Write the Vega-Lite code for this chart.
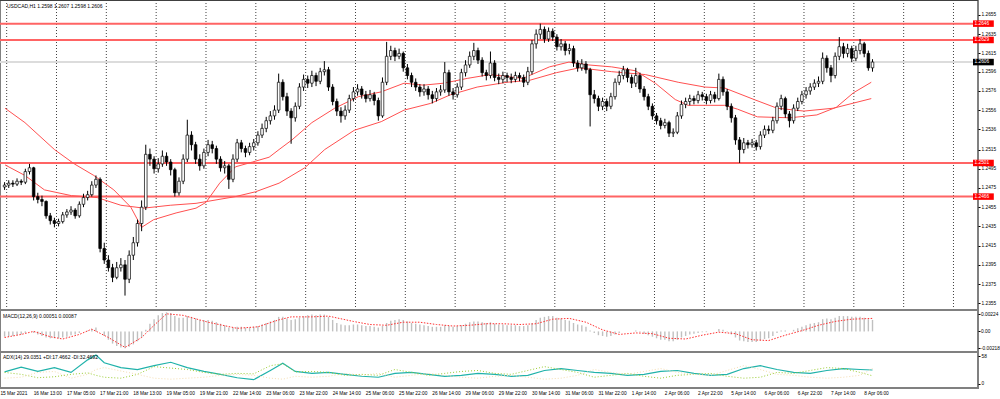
{
"$schema":"https://vega.github.io/schema/vega-lite/v6.json",
"autosize":{"type":"none"},"width":978,"height":388,"padding":{"left":0,"top":0,"right":22,"bottom":11},"background":"white",
"config":{"view":{"stroke":"#808080","strokeWidth":2},"font":"Liberation Sans"},
"datasets":{
"k":[
{"i":0,"o":1.2476,"h":1.2481,"l":1.2473,"c":1.2478,"m":-0.0007},
{"i":1,"o":1.2478,"h":1.2483,"l":1.2475,"c":1.2480,"m":-0.0007},
{"i":2,"o":1.2480,"h":1.2483,"l":1.2476,"c":1.2479,"m":-0.0006},
{"i":3,"o":1.2479,"h":1.2485,"l":1.2477,"c":1.2482,"m":-0.0005},
{"i":4,"o":1.2482,"h":1.2484,"l":1.2478,"c":1.2481,"m":-0.0004},
{"i":5,"o":1.2481,"h":1.2495,"l":1.2479,"c":1.2492,"m":-0.0002},
{"i":6,"o":1.2492,"h":1.2500,"l":1.2489,"c":1.2496,"m":0.0000},
{"i":7,"o":1.2496,"h":1.2497,"l":1.2462,"c":1.2466,"m":-0.0002},
{"i":8,"o":1.2466,"h":1.2470,"l":1.2459,"c":1.2463,"m":-0.0004},
{"i":9,"o":1.2463,"h":1.2467,"l":1.2456,"c":1.2461,"m":-0.0006},
{"i":10,"o":1.2461,"h":1.2462,"l":1.2443,"c":1.2446,"m":-0.0008},
{"i":11,"o":1.2446,"h":1.2449,"l":1.2437,"c":1.2441,"m":-0.0009},
{"i":12,"o":1.2441,"h":1.2444,"l":1.2434,"c":1.2438,"m":-0.0009},
{"i":13,"o":1.2438,"h":1.2443,"l":1.2435,"c":1.2440,"m":-0.0009},
{"i":14,"o":1.2440,"h":1.2450,"l":1.2438,"c":1.2447,"m":-0.0008},
{"i":15,"o":1.2447,"h":1.2453,"l":1.2444,"c":1.2450,"m":-0.0007},
{"i":16,"o":1.2450,"h":1.2456,"l":1.2447,"c":1.2452,"m":-0.0005},
{"i":17,"o":1.2452,"h":1.2454,"l":1.2443,"c":1.2446,"m":-0.0004},
{"i":18,"o":1.2446,"h":1.2461,"l":1.2444,"c":1.2458,"m":-0.0002},
{"i":19,"o":1.2458,"h":1.2469,"l":1.2455,"c":1.2465,"m":0.0000},
{"i":20,"o":1.2465,"h":1.2472,"l":1.2462,"c":1.2468,"m":0.0001},
{"i":21,"o":1.2468,"h":1.2482,"l":1.2466,"c":1.2478,"m":0.0003},
{"i":22,"o":1.2478,"h":1.2488,"l":1.2475,"c":1.2484,"m":0.0005},
{"i":23,"o":1.2484,"h":1.2486,"l":1.2408,"c":1.2412,"m":0.0000},
{"i":24,"o":1.2412,"h":1.2418,"l":1.2396,"c":1.2400,"m":-0.0006},
{"i":25,"o":1.2400,"h":1.2405,"l":1.2388,"c":1.2392,"m":-0.0011},
{"i":26,"o":1.2392,"h":1.2396,"l":1.2377,"c":1.2382,"m":-0.0016},
{"i":27,"o":1.2382,"h":1.2398,"l":1.2380,"c":1.2392,"m":-0.0019},
{"i":28,"o":1.2392,"h":1.2402,"l":1.2388,"c":1.2395,"m":-0.0021},
{"i":29,"o":1.2395,"h":1.2400,"l":1.2363,"c":1.2380,"m":-0.0022},
{"i":30,"o":1.2380,"h":1.2410,"l":1.2376,"c":1.2405,"m":-0.0020},
{"i":31,"o":1.2405,"h":1.2424,"l":1.2400,"c":1.2418,"m":-0.0017},
{"i":32,"o":1.2418,"h":1.2442,"l":1.2414,"c":1.2438,"m":-0.0013},
{"i":33,"o":1.2438,"h":1.2462,"l":1.2430,"c":1.2455,"m":-0.0008},
{"i":34,"o":1.2455,"h":1.2520,"l":1.2452,"c":1.2510,"m":0.0002},
{"i":35,"o":1.2510,"h":1.2516,"l":1.2498,"c":1.2505,"m":0.0010},
{"i":36,"o":1.2505,"h":1.2508,"l":1.2490,"c":1.2495,"m":0.0016},
{"i":37,"o":1.2495,"h":1.2506,"l":1.2491,"c":1.2500,"m":0.0021},
{"i":38,"o":1.2500,"h":1.2514,"l":1.2497,"c":1.2508,"m":0.0024},
{"i":39,"o":1.2508,"h":1.2512,"l":1.2498,"c":1.2502,"m":0.0025},
{"i":40,"o":1.2502,"h":1.2505,"l":1.2488,"c":1.2494,"m":0.0024},
{"i":41,"o":1.2494,"h":1.2496,"l":1.2466,"c":1.2470,"m":0.0020},
{"i":42,"o":1.2470,"h":1.2486,"l":1.2467,"c":1.2482,"m":0.0018},
{"i":43,"o":1.2482,"h":1.2510,"l":1.2479,"c":1.2505,"m":0.0018},
{"i":44,"o":1.2505,"h":1.2546,"l":1.2502,"c":1.2530,"m":0.0020},
{"i":45,"o":1.2530,"h":1.2534,"l":1.2514,"c":1.2520,"m":0.0019},
{"i":46,"o":1.2520,"h":1.2523,"l":1.2500,"c":1.2505,"m":0.0017},
{"i":47,"o":1.2505,"h":1.2510,"l":1.2493,"c":1.2498,"m":0.0015},
{"i":48,"o":1.2498,"h":1.2516,"l":1.2495,"c":1.2512,"m":0.0015},
{"i":49,"o":1.2512,"h":1.2525,"l":1.2508,"c":1.2520,"m":0.0015},
{"i":50,"o":1.2520,"h":1.2524,"l":1.2511,"c":1.2516,"m":0.0014},
{"i":51,"o":1.2516,"h":1.2519,"l":1.2500,"c":1.2505,"m":0.0012},
{"i":52,"o":1.2505,"h":1.2508,"l":1.2492,"c":1.2496,"m":0.0010},
{"i":53,"o":1.2496,"h":1.2503,"l":1.2490,"c":1.2498,"m":0.0008},
{"i":54,"o":1.2498,"h":1.2500,"l":1.2474,"c":1.2484,"m":0.0005},
{"i":55,"o":1.2484,"h":1.2510,"l":1.2481,"c":1.2505,"m":0.0005},
{"i":56,"o":1.2505,"h":1.2526,"l":1.2502,"c":1.2522,"m":0.0006},
{"i":57,"o":1.2522,"h":1.2525,"l":1.2512,"c":1.2516,"m":0.0006},
{"i":58,"o":1.2516,"h":1.2519,"l":1.2507,"c":1.2512,"m":0.0005},
{"i":59,"o":1.2512,"h":1.2522,"l":1.2509,"c":1.2518,"m":0.0005},
{"i":60,"o":1.2518,"h":1.2526,"l":1.2514,"c":1.2522,"m":0.0006},
{"i":61,"o":1.2522,"h":1.2534,"l":1.2519,"c":1.2530,"m":0.0007},
{"i":62,"o":1.2530,"h":1.2542,"l":1.2527,"c":1.2537,"m":0.0009},
{"i":63,"o":1.2537,"h":1.2549,"l":1.2533,"c":1.2545,"m":0.0011},
{"i":64,"o":1.2545,"h":1.2555,"l":1.2541,"c":1.2550,"m":0.0013},
{"i":65,"o":1.2550,"h":1.2561,"l":1.2546,"c":1.2556,"m":0.0015},
{"i":66,"o":1.2556,"h":1.2594,"l":1.2553,"c":1.2585,"m":0.0019},
{"i":67,"o":1.2585,"h":1.2588,"l":1.2566,"c":1.2570,"m":0.0019},
{"i":68,"o":1.2570,"h":1.2574,"l":1.2550,"c":1.2555,"m":0.0017},
{"i":69,"o":1.2555,"h":1.2558,"l":1.2521,"c":1.2548,"m":0.0015},
{"i":70,"o":1.2548,"h":1.2564,"l":1.2544,"c":1.2560,"m":0.0016},
{"i":71,"o":1.2560,"h":1.2584,"l":1.2557,"c":1.2580,"m":0.0018},
{"i":72,"o":1.2580,"h":1.2593,"l":1.2576,"c":1.2588,"m":0.0020},
{"i":73,"o":1.2588,"h":1.2592,"l":1.2579,"c":1.2584,"m":0.0021},
{"i":74,"o":1.2584,"h":1.2597,"l":1.2580,"c":1.2592,"m":0.0022},
{"i":75,"o":1.2592,"h":1.2595,"l":1.2581,"c":1.2586,"m":0.0021},
{"i":76,"o":1.2586,"h":1.2600,"l":1.2583,"c":1.2596,"m":0.0022},
{"i":77,"o":1.2596,"h":1.2607,"l":1.2592,"c":1.2598,"m":0.0022},
{"i":78,"o":1.2598,"h":1.2601,"l":1.2576,"c":1.2580,"m":0.0019},
{"i":79,"o":1.2580,"h":1.2583,"l":1.2561,"c":1.2565,"m":0.0015},
{"i":80,"o":1.2565,"h":1.2568,"l":1.2550,"c":1.2555,"m":0.0011},
{"i":81,"o":1.2555,"h":1.2559,"l":1.2543,"c":1.2550,"m":0.0009},
{"i":82,"o":1.2550,"h":1.2561,"l":1.2546,"c":1.2556,"m":0.0008},
{"i":83,"o":1.2556,"h":1.2572,"l":1.2553,"c":1.2568,"m":0.0008},
{"i":84,"o":1.2568,"h":1.2580,"l":1.2565,"c":1.2575,"m":0.0009},
{"i":85,"o":1.2575,"h":1.2583,"l":1.2571,"c":1.2578,"m":0.0009},
{"i":86,"o":1.2578,"h":1.2581,"l":1.2568,"c":1.2572,"m":0.0008},
{"i":87,"o":1.2572,"h":1.2576,"l":1.2564,"c":1.2568,"m":0.0007},
{"i":88,"o":1.2568,"h":1.2577,"l":1.2565,"c":1.2572,"m":0.0007},
{"i":89,"o":1.2572,"h":1.2575,"l":1.2561,"c":1.2566,"m":0.0006},
{"i":90,"o":1.2566,"h":1.2569,"l":1.2545,"c":1.2550,"m":0.0005},
{"i":91,"o":1.2550,"h":1.2590,"l":1.2548,"c":1.2585,"m":0.0007},
{"i":92,"o":1.2585,"h":1.2627,"l":1.2582,"c":1.2612,"m":0.0011},
{"i":93,"o":1.2612,"h":1.2623,"l":1.2608,"c":1.2618,"m":0.0014},
{"i":94,"o":1.2618,"h":1.2621,"l":1.2607,"c":1.2612,"m":0.0015},
{"i":95,"o":1.2612,"h":1.2620,"l":1.2609,"c":1.2615,"m":0.0016},
{"i":96,"o":1.2615,"h":1.2617,"l":1.2596,"c":1.2600,"m":0.0015},
{"i":97,"o":1.2600,"h":1.2604,"l":1.2588,"c":1.2592,"m":0.0013},
{"i":98,"o":1.2592,"h":1.2595,"l":1.2580,"c":1.2585,"m":0.0011},
{"i":99,"o":1.2585,"h":1.2589,"l":1.2576,"c":1.2580,"m":0.0010},
{"i":100,"o":1.2580,"h":1.2583,"l":1.2570,"c":1.2575,"m":0.0009},
{"i":101,"o":1.2575,"h":1.2583,"l":1.2571,"c":1.2578,"m":0.0008},
{"i":102,"o":1.2578,"h":1.2581,"l":1.2567,"c":1.2572,"m":0.0007},
{"i":103,"o":1.2572,"h":1.2576,"l":1.2563,"c":1.2568,"m":0.0006},
{"i":104,"o":1.2568,"h":1.2579,"l":1.2565,"c":1.2575,"m":0.0006},
{"i":105,"o":1.2575,"h":1.2582,"l":1.2571,"c":1.2577,"m":0.0006},
{"i":106,"o":1.2577,"h":1.2606,"l":1.2574,"c":1.2595,"m":0.0008},
{"i":107,"o":1.2595,"h":1.2598,"l":1.2571,"c":1.2575,"m":0.0007},
{"i":108,"o":1.2575,"h":1.2579,"l":1.2567,"c":1.2572,"m":0.0006},
{"i":109,"o":1.2572,"h":1.2584,"l":1.2569,"c":1.2580,"m":0.0007},
{"i":110,"o":1.2580,"h":1.2599,"l":1.2577,"c":1.2595,"m":0.0008},
{"i":111,"o":1.2595,"h":1.2608,"l":1.2591,"c":1.2603,"m":0.0010},
{"i":112,"o":1.2603,"h":1.2617,"l":1.2600,"c":1.2612,"m":0.0012},
{"i":113,"o":1.2612,"h":1.2626,"l":1.2608,"c":1.2618,"m":0.0013},
{"i":114,"o":1.2618,"h":1.2621,"l":1.2604,"c":1.2608,"m":0.0013},
{"i":115,"o":1.2608,"h":1.2611,"l":1.2591,"c":1.2595,"m":0.0012},
{"i":116,"o":1.2595,"h":1.2598,"l":1.2587,"c":1.2592,"m":0.0011},
{"i":117,"o":1.2592,"h":1.2617,"l":1.2589,"c":1.2605,"m":0.0012},
{"i":118,"o":1.2605,"h":1.2608,"l":1.2586,"c":1.2590,"m":0.0010},
{"i":119,"o":1.2590,"h":1.2594,"l":1.2583,"c":1.2588,"m":0.0009},
{"i":120,"o":1.2588,"h":1.2596,"l":1.2584,"c":1.2592,"m":0.0009},
{"i":121,"o":1.2592,"h":1.2595,"l":1.2585,"c":1.2590,"m":0.0008},
{"i":122,"o":1.2590,"h":1.2594,"l":1.2584,"c":1.2588,"m":0.0008},
{"i":123,"o":1.2588,"h":1.2596,"l":1.2585,"c":1.2592,"m":0.0008},
{"i":124,"o":1.2592,"h":1.2595,"l":1.2586,"c":1.2590,"m":0.0007},
{"i":125,"o":1.2590,"h":1.2593,"l":1.2580,"c":1.2585,"m":0.0007},
{"i":126,"o":1.2585,"h":1.2601,"l":1.2582,"c":1.2596,"m":0.0008},
{"i":127,"o":1.2596,"h":1.2629,"l":1.2593,"c":1.2625,"m":0.0011},
{"i":128,"o":1.2625,"h":1.2640,"l":1.2620,"c":1.2635,"m":0.0015},
{"i":129,"o":1.2635,"h":1.2646,"l":1.2630,"c":1.2640,"m":0.0018},
{"i":130,"o":1.2640,"h":1.2643,"l":1.2626,"c":1.2630,"m":0.0019},
{"i":131,"o":1.2630,"h":1.2642,"l":1.2627,"c":1.2638,"m":0.0020},
{"i":132,"o":1.2638,"h":1.2641,"l":1.2628,"c":1.2632,"m":0.0020},
{"i":133,"o":1.2632,"h":1.2635,"l":1.2618,"c":1.2622,"m":0.0018},
{"i":134,"o":1.2622,"h":1.2630,"l":1.2618,"c":1.2625,"m":0.0017},
{"i":135,"o":1.2625,"h":1.2628,"l":1.2613,"c":1.2618,"m":0.0015},
{"i":136,"o":1.2618,"h":1.2625,"l":1.2614,"c":1.2620,"m":0.0014},
{"i":137,"o":1.2620,"h":1.2623,"l":1.2601,"c":1.2605,"m":0.0011},
{"i":138,"o":1.2605,"h":1.2608,"l":1.2596,"c":1.2600,"m":0.0009},
{"i":139,"o":1.2600,"h":1.2609,"l":1.2597,"c":1.2604,"m":0.0008},
{"i":140,"o":1.2604,"h":1.2607,"l":1.2594,"c":1.2598,"m":0.0006},
{"i":141,"o":1.2598,"h":1.2600,"l":1.2539,"c":1.2572,"m":0.0001},
{"i":142,"o":1.2572,"h":1.2577,"l":1.2563,"c":1.2568,"m":-0.0002},
{"i":143,"o":1.2568,"h":1.2571,"l":1.2555,"c":1.2560,"m":-0.0005},
{"i":144,"o":1.2560,"h":1.2569,"l":1.2556,"c":1.2565,"m":-0.0006},
{"i":145,"o":1.2565,"h":1.2568,"l":1.2555,"c":1.2560,"m":-0.0007},
{"i":146,"o":1.2560,"h":1.2574,"l":1.2557,"c":1.2570,"m":-0.0006},
{"i":147,"o":1.2570,"h":1.2589,"l":1.2567,"c":1.2585,"m":-0.0004},
{"i":148,"o":1.2585,"h":1.2597,"l":1.2582,"c":1.2592,"m":-0.0002},
{"i":149,"o":1.2592,"h":1.2602,"l":1.2588,"c":1.2598,"m":0.0000},
{"i":150,"o":1.2598,"h":1.2600,"l":1.2585,"c":1.2590,"m":0.0000},
{"i":151,"o":1.2590,"h":1.2593,"l":1.2579,"c":1.2584,"m":0.0000},
{"i":152,"o":1.2584,"h":1.2600,"l":1.2580,"c":1.2592,"m":0.0001},
{"i":153,"o":1.2592,"h":1.2595,"l":1.2574,"c":1.2578,"m":-0.0001},
{"i":154,"o":1.2578,"h":1.2581,"l":1.2566,"c":1.2570,"m":-0.0003},
{"i":155,"o":1.2570,"h":1.2573,"l":1.2556,"c":1.2560,"m":-0.0005},
{"i":156,"o":1.2560,"h":1.2563,"l":1.2546,"c":1.2550,"m":-0.0007},
{"i":157,"o":1.2550,"h":1.2553,"l":1.2541,"c":1.2545,"m":-0.0009},
{"i":158,"o":1.2545,"h":1.2548,"l":1.2536,"c":1.2540,"m":-0.0011},
{"i":159,"o":1.2540,"h":1.2547,"l":1.2537,"c":1.2543,"m":-0.0011},
{"i":160,"o":1.2543,"h":1.2545,"l":1.2528,"c":1.2532,"m":-0.0013},
{"i":161,"o":1.2532,"h":1.2537,"l":1.2528,"c":1.2533,"m":-0.0013},
{"i":162,"o":1.2533,"h":1.2554,"l":1.2531,"c":1.2550,"m":-0.0011},
{"i":163,"o":1.2550,"h":1.2566,"l":1.2547,"c":1.2562,"m":-0.0008},
{"i":164,"o":1.2562,"h":1.2569,"l":1.2558,"c":1.2565,"m":-0.0006},
{"i":165,"o":1.2565,"h":1.2572,"l":1.2561,"c":1.2568,"m":-0.0004},
{"i":166,"o":1.2568,"h":1.2571,"l":1.2562,"c":1.2566,"m":-0.0003},
{"i":167,"o":1.2566,"h":1.2576,"l":1.2563,"c":1.2572,"m":-0.0002},
{"i":168,"o":1.2572,"h":1.2575,"l":1.2566,"c":1.2570,"m":-0.0001},
{"i":169,"o":1.2570,"h":1.2573,"l":1.2562,"c":1.2566,"m":-0.0001},
{"i":170,"o":1.2566,"h":1.2576,"l":1.2563,"c":1.2572,"m":0.0000},
{"i":171,"o":1.2572,"h":1.2575,"l":1.2564,"c":1.2568,"m":0.0000},
{"i":172,"o":1.2568,"h":1.2594,"l":1.2566,"c":1.2588,"m":0.0003},
{"i":173,"o":1.2588,"h":1.2591,"l":1.2571,"c":1.2575,"m":0.0002},
{"i":174,"o":1.2575,"h":1.2578,"l":1.2556,"c":1.2560,"m":-0.0001},
{"i":175,"o":1.2560,"h":1.2563,"l":1.2543,"c":1.2548,"m":-0.0004},
{"i":176,"o":1.2548,"h":1.2551,"l":1.2520,"c":1.2525,"m":-0.0008},
{"i":177,"o":1.2525,"h":1.2528,"l":1.2501,"c":1.2515,"m":-0.0012},
{"i":178,"o":1.2515,"h":1.2527,"l":1.2511,"c":1.2522,"m":-0.0013},
{"i":179,"o":1.2522,"h":1.2525,"l":1.2516,"c":1.2520,"m":-0.0014},
{"i":180,"o":1.2520,"h":1.2526,"l":1.2517,"c":1.2522,"m":-0.0014},
{"i":181,"o":1.2522,"h":1.2525,"l":1.2514,"c":1.2518,"m":-0.0014},
{"i":182,"o":1.2518,"h":1.2534,"l":1.2515,"c":1.2530,"m":-0.0012},
{"i":183,"o":1.2530,"h":1.2540,"l":1.2527,"c":1.2536,"m":-0.0010},
{"i":184,"o":1.2536,"h":1.2540,"l":1.2531,"c":1.2535,"m":-0.0009},
{"i":185,"o":1.2535,"h":1.2549,"l":1.2532,"c":1.2545,"m":-0.0006},
{"i":186,"o":1.2545,"h":1.2564,"l":1.2542,"c":1.2560,"m":-0.0002},
{"i":187,"o":1.2560,"h":1.2572,"l":1.2556,"c":1.2568,"m":0.0001},
{"i":188,"o":1.2568,"h":1.2570,"l":1.2548,"c":1.2552,"m":0.0001},
{"i":189,"o":1.2552,"h":1.2555,"l":1.2538,"c":1.2545,"m":0.0000},
{"i":190,"o":1.2545,"h":1.2562,"l":1.2542,"c":1.2558,"m":0.0002},
{"i":191,"o":1.2558,"h":1.2569,"l":1.2555,"c":1.2565,"m":0.0004},
{"i":192,"o":1.2565,"h":1.2576,"l":1.2562,"c":1.2572,"m":0.0006},
{"i":193,"o":1.2572,"h":1.2580,"l":1.2568,"c":1.2576,"m":0.0008},
{"i":194,"o":1.2576,"h":1.2584,"l":1.2572,"c":1.2580,"m":0.0010},
{"i":195,"o":1.2580,"h":1.2588,"l":1.2577,"c":1.2584,"m":0.0011},
{"i":196,"o":1.2584,"h":1.2591,"l":1.2580,"c":1.2586,"m":0.0012},
{"i":197,"o":1.2586,"h":1.2616,"l":1.2583,"c":1.2610,"m":0.0016},
{"i":198,"o":1.2610,"h":1.2613,"l":1.2595,"c":1.2600,"m":0.0017},
{"i":199,"o":1.2600,"h":1.2603,"l":1.2585,"c":1.2592,"m":0.0016},
{"i":200,"o":1.2592,"h":1.2616,"l":1.2589,"c":1.2612,"m":0.0018},
{"i":201,"o":1.2612,"h":1.2632,"l":1.2608,"c":1.2622,"m":0.0020},
{"i":202,"o":1.2622,"h":1.2626,"l":1.2610,"c":1.2615,"m":0.0020},
{"i":203,"o":1.2615,"h":1.2625,"l":1.2611,"c":1.2620,"m":0.0020},
{"i":204,"o":1.2620,"h":1.2623,"l":1.2606,"c":1.2610,"m":0.0019},
{"i":205,"o":1.2610,"h":1.2623,"l":1.2607,"c":1.2618,"m":0.0019},
{"i":206,"o":1.2618,"h":1.2630,"l":1.2614,"c":1.2625,"m":0.0019},
{"i":207,"o":1.2625,"h":1.2627,"l":1.2611,"c":1.2615,"m":0.0018},
{"i":208,"o":1.2615,"h":1.2618,"l":1.2597,"c":1.2600,"m":0.0016},
{"i":209,"o":1.2600,"h":1.2609,"l":1.2596,"c":1.2606,"m":0.0015}
],
"ma":[
{"i":0.1,"v":1.2558,"k":"A"},{"i":4.9,"v":1.2543,"k":"A"},{"i":12,"v":1.2515,"k":"A"},{"i":16.8,"v":1.25,"k":"A"},{"i":21.5,"v":1.2488,"k":"A"},{"i":26.3,"v":1.2473,"k":"A"},{"i":30.4,"v":1.2455,"k":"A"},{"i":33,"v":1.2434,"k":"A"},{"i":35.9,"v":1.2442,"k":"A"},{"i":41.3,"v":1.2449,"k":"A"},{"i":46.1,"v":1.2454,"k":"A"},{"i":48.5,"v":1.246,"k":"A"},{"i":51.8,"v":1.248,"k":"A"},{"i":55.6,"v":1.2497,"k":"A"},{"i":59.7,"v":1.2502,"k":"A"},{"i":63.7,"v":1.2507,"k":"A"},{"i":66.1,"v":1.2515,"k":"A"},{"i":69.2,"v":1.2525,"k":"A"},{"i":74,"v":1.2543,"k":"A"},{"i":79.5,"v":1.2558,"k":"A"},{"i":85.2,"v":1.257,"k":"A"},{"i":90.7,"v":1.2575,"k":"A"},{"i":96.2,"v":1.2584,"k":"A"},{"i":100.9,"v":1.2582,"k":"A"},{"i":105.7,"v":1.2584,"k":"A"},{"i":111.4,"v":1.2589,"k":"A"},{"i":116.9,"v":1.2593,"k":"A"},{"i":124.8,"v":1.2589,"k":"A"},{"i":131.2,"v":1.2601,"k":"A"},{"i":135.9,"v":1.2606,"k":"A"},{"i":140.7,"v":1.2603,"k":"A"},{"i":146.2,"v":1.2601,"k":"A"},{"i":151.9,"v":1.2597,"k":"A"},{"i":156.7,"v":1.2584,"k":"A"},{"i":161.5,"v":1.2567,"k":"A"},{"i":164.6,"v":1.2561,"k":"A"},{"i":173.4,"v":1.2561,"k":"A"},{"i":176.5,"v":1.2557,"k":"A"},{"i":181.3,"v":1.2549,"k":"A"},{"i":189.1,"v":1.2548,"k":"A"},{"i":195.6,"v":1.2551,"k":"A"},{"i":200.3,"v":1.2559,"k":"A"},{"i":204.4,"v":1.2574,"k":"A"},{"i":208.7,"v":1.2585,"k":"A"},
{"i":0.1,"v":1.2499,"k":"B"},{"i":4.9,"v":1.2488,"k":"B"},{"i":9.6,"v":1.2473,"k":"B"},{"i":16.1,"v":1.2467,"k":"B"},{"i":22.3,"v":1.2465,"k":"B"},{"i":28,"v":1.2457,"k":"B"},{"i":33.5,"v":1.2454,"k":"B"},{"i":39.9,"v":1.2457,"k":"B"},{"i":46.1,"v":1.2459,"k":"B"},{"i":55.6,"v":1.2466,"k":"B"},{"i":60.4,"v":1.2471,"k":"B"},{"i":66.1,"v":1.248,"k":"B"},{"i":69.2,"v":1.2488,"k":"B"},{"i":72.3,"v":1.2496,"k":"B"},{"i":77.1,"v":1.2515,"k":"B"},{"i":84.2,"v":1.2535,"k":"B"},{"i":90.7,"v":1.2544,"k":"B"},{"i":96.2,"v":1.2556,"k":"B"},{"i":102.6,"v":1.2563,"k":"B"},{"i":107.4,"v":1.2572,"k":"B"},{"i":113.8,"v":1.258,"k":"B"},{"i":121,"v":1.2585,"k":"B"},{"i":126.4,"v":1.2587,"k":"B"},{"i":132.9,"v":1.2595,"k":"B"},{"i":138.4,"v":1.26,"k":"B"},{"i":146.2,"v":1.2596,"k":"B"},{"i":154.3,"v":1.2593,"k":"B"},{"i":162.2,"v":1.2585,"k":"B"},{"i":168.6,"v":1.258,"k":"B"},{"i":173.4,"v":1.2579,"k":"B"},{"i":180.5,"v":1.2567,"k":"B"},{"i":186,"v":1.2558,"k":"B"},{"i":192.5,"v":1.2555,"k":"B"},{"i":199.6,"v":1.2558,"k":"B"},{"i":208.7,"v":1.2568,"k":"B"}
],
"lv":[{"p":1.2646,"t":"1.2646"},{"p":1.2629,"t":"1.2629"},{"p":1.2501,"t":"1.2501"},{"p":1.2466,"t":"1.2466"}],
"cur":[{"p":1.2606,"t":"1.2606"}],
"days":[{"i":0.5},{"i":12.5},{"i":24.5},{"i":36.5},{"i":48.5},{"i":60.5},{"i":72.5},{"i":84.5},{"i":96.5},{"i":108.5},{"i":120.5},{"i":132.5},{"i":144.5},{"i":156.5},{"i":168.5},{"i":180.5},{"i":192.5},{"i":204.5},{"i":216.5},{"i":228.5}],
"xl":[{"i":-1,"t":"15 Mar 2021"},{"i":7,"t":"16 Mar 13:00"},{"i":15,"t":"17 Mar 05:00"},{"i":23,"t":"17 Mar 21:00"},{"i":31,"t":"18 Mar 13:00"},{"i":39,"t":"19 Mar 05:00"},{"i":47,"t":"19 Mar 21:00"},{"i":55,"t":"22 Mar 14:00"},{"i":63,"t":"23 Mar 06:00"},{"i":71,"t":"23 Mar 22:00"},{"i":79,"t":"24 Mar 14:00"},{"i":87,"t":"25 Mar 06:00"},{"i":95,"t":"25 Mar 22:00"},{"i":103,"t":"26 Mar 14:00"},{"i":111,"t":"29 Mar 06:00"},{"i":119,"t":"29 Mar 22:00"},{"i":127,"t":"30 Mar 14:00"},{"i":135,"t":"31 Mar 06:00"},{"i":143,"t":"31 Mar 22:00"},{"i":151,"t":"1 Apr 14:00"},{"i":159,"t":"2 Apr 06:00"},{"i":167,"t":"2 Apr 22:00"},{"i":175,"t":"5 Apr 14:00"},{"i":183,"t":"6 Apr 06:00"},{"i":191,"t":"6 Apr 22:00"},{"i":199,"t":"7 Apr 14:00"},{"i":207,"t":"8 Apr 06:00"}],
"sig":[{"i":0,"s":-0.0008},{"i":4,"s":-0.0004},{"i":7,"s":0.0},{"i":11,"s":-0.0007},{"i":14,"s":-0.001},{"i":18,"s":-0.0004},{"i":21,"s":0.0003},{"i":25,"s":-0.0008},{"i":29,"s":-0.0021},{"i":33,"s":-0.0008},{"i":36,"s":0.0008},{"i":39,"s":0.0023},{"i":43,"s":0.0021},{"i":49,"s":0.0012},{"i":56,"s":0.0004},{"i":61,"s":0.0006},{"i":66,"s":0.0015},{"i":69,"s":0.0019},{"i":74,"s":0.0019},{"i":78,"s":0.002},{"i":84,"s":0.0013},{"i":88,"s":0.0009},{"i":92,"s":0.0008},{"i":96,"s":0.0012},{"i":100,"s":0.0012},{"i":104,"s":0.0009},{"i":108,"s":0.0007},{"i":112,"s":0.0008},{"i":116,"s":0.001},{"i":120,"s":0.001},{"i":124,"s":0.0009},{"i":128,"s":0.001},{"i":132,"s":0.0016},{"i":136,"s":0.0017},{"i":140,"s":0.0012},{"i":144,"s":0.0002},{"i":148,"s":-0.0004},{"i":152,"s":-0.0002},{"i":156,"s":-0.0003},{"i":160,"s":-0.0009},{"i":164,"s":-0.001},{"i":168,"s":-0.0005},{"i":172,"s":-0.0001},{"i":176,"s":-0.0003},{"i":180,"s":-0.0011},{"i":184,"s":-0.0012},{"i":188,"s":-0.0005},{"i":192,"s":0.0001},{"i":196,"s":0.0008},{"i":200,"s":0.0013},{"i":204,"s":0.0016},{"i":209,"s":0.0017}],
"dmi":[{"i":0,"a":25,"p":24,"n":12},{"i":4,"a":35,"p":20,"n":14},{"i":8,"a":26,"p":13,"n":24},{"i":12,"a":34,"p":15,"n":26},{"i":16,"a":24,"p":20,"n":12},{"i":20,"a":50,"p":23,"n":20},{"i":22,"a":60,"p":18,"n":30},{"i":24,"a":44,"p":14,"n":34},{"i":28,"a":34,"p":12,"n":27},{"i":32,"a":30,"p":20,"n":20},{"i":36,"a":38,"p":36,"n":12},{"i":40,"a":45,"p":33,"n":10},{"i":44,"a":34,"p":30,"n":12},{"i":48,"a":26,"p":24,"n":14},{"i":52,"a":20,"p":20,"n":18},{"i":56,"a":13,"p":22,"n":20},{"i":60,"a":9,"p":21,"n":18},{"i":64,"a":28,"p":38,"n":12},{"i":67,"a":43,"p":42,"n":10},{"i":70,"a":26,"p":25,"n":16},{"i":74,"a":22,"p":26,"n":14},{"i":78,"a":24,"p":24,"n":16},{"i":82,"a":20,"p":18,"n":22},{"i":86,"a":16,"p":20,"n":18},{"i":90,"a":14,"p":18,"n":22},{"i":94,"a":22,"p":30,"n":14},{"i":98,"a":24,"p":24,"n":18},{"i":102,"a":20,"p":18,"n":22},{"i":106,"a":16,"p":22,"n":18},{"i":110,"a":18,"p":26,"n":14},{"i":114,"a":22,"p":28,"n":12},{"i":118,"a":20,"p":22,"n":16},{"i":122,"a":16,"p":20,"n":18},{"i":126,"a":18,"p":28,"n":14},{"i":130,"a":28,"p":36,"n":10},{"i":134,"a":32,"p":30,"n":12},{"i":138,"a":28,"p":24,"n":18},{"i":142,"a":24,"p":14,"n":30},{"i":146,"a":22,"p":18,"n":24},{"i":150,"a":18,"p":22,"n":20},{"i":154,"a":20,"p":16,"n":26},{"i":158,"a":26,"p":12,"n":32},{"i":162,"a":28,"p":18,"n":24},{"i":166,"a":22,"p":20,"n":20},{"i":170,"a":18,"p":22,"n":18},{"i":174,"a":20,"p":16,"n":28},{"i":178,"a":32,"p":12,"n":38},{"i":182,"a":38,"p":14,"n":30},{"i":186,"a":30,"p":24,"n":20},{"i":190,"a":24,"p":22,"n":18},{"i":194,"a":22,"p":28,"n":14},{"i":198,"a":28,"p":34,"n":12},{"i":202,"a":32,"p":32,"n":14},{"i":206,"a":30,"p":24,"n":18},{"i":209,"a":29,"p":17,"n":32}]
},
"resolve":{"scale":{"y":"independent"},"axis":{"y":"independent"}},
"layer":[
{"data":{"name":"days"},"mark":{"type":"rule","color":"#404040","strokeDash":[1,2],"strokeWidth":1},
 "encoding":{"x":{"field":"i","type":"quantitative","scale":{"domain":[0.1,233.2],"nice":false,"zero":false},"axis":null},
  "y":{"datum":1.26706,"type":"quantitative","scale":{"domain":[1.2348,1.26706],"range":[310,0],"nice":false,"zero":false},"axis":null},"y2":{"datum":1.2348}}},
{"data":{"name":"cur"},"mark":{"type":"rule","color":"#dcdcdc","strokeWidth":2},
 "encoding":{"y":{"field":"p","type":"quantitative","scale":{"domain":[1.2348,1.26706],"range":[310,0],"nice":false,"zero":false},
  "axis":{"orient":"right","title":null,"values":[1.2655,1.2635,1.2615,1.2596,1.2576,1.2556,1.2536,1.2515,1.2495,1.2475,1.2455,1.2435,1.2415,1.2395,1.2375,1.2355],"format":".4f","labelFontSize":4.8,"labelColor":"#000","tickSize":2,"tickColor":"#000","labelPadding":1,"domain":false,"labelOverlap":false,"labelFlush":false,"labelBound":false,"grid":false}}}},
{"data":{"name":"lv"},"mark":{"type":"rule","color":"#ff6464","strokeWidth":2},
 "encoding":{"y":{"field":"p","type":"quantitative","scale":{"domain":[1.2348,1.26706],"range":[310,0],"nice":false,"zero":false},"axis":null}}},
{"data":{"name":"ma"},"mark":{"type":"line","color":"#ff5050","strokeWidth":1},
 "encoding":{"x":{"field":"i","type":"quantitative","scale":{"domain":[0.1,233.2],"nice":false,"zero":false},"axis":null},
  "y":{"field":"v","type":"quantitative","scale":{"domain":[1.2348,1.26706],"range":[310,0],"nice":false,"zero":false},"axis":null},"detail":{"field":"k"}}},
{"data":{"name":"k"},"mark":{"type":"rule","color":"#000","strokeWidth":1},
 "encoding":{"x":{"field":"i","type":"quantitative","scale":{"domain":[0.1,233.2],"nice":false,"zero":false},"axis":null},
  "y":{"field":"l","type":"quantitative","scale":{"domain":[1.2348,1.26706],"range":[310,0],"nice":false,"zero":false},"axis":null},"y2":{"field":"h"}}},
{"data":{"name":"k"},"mark":{"type":"bar","width":2.6,"stroke":"#000","strokeWidth":0.7},
 "encoding":{"x":{"field":"i","type":"quantitative","scale":{"domain":[0.1,233.2],"nice":false,"zero":false},"axis":null},
  "y":{"field":"o","type":"quantitative","scale":{"domain":[1.2348,1.26706],"range":[310,0],"nice":false,"zero":false},"axis":null},"y2":{"field":"c"},
  "fill":{"condition":{"test":"datum.c >= datum.o","value":"#ffffff"},"value":"#000000"}}},
{"data":{"name":"lv"},"mark":{"type":"point","shape":"M0,-0.5L3.2,-0.5L3.2,0.5L0,0.5Z","size":169,"filled":true,"color":"#ff0000","opacity":1},
 "encoding":{"x":{"datum":233.2,"type":"quantitative","axis":null},"y":{"field":"p","type":"quantitative","scale":{"domain":[1.2348,1.26706],"range":[310,0],"nice":false,"zero":false},"axis":null}}},
{"data":{"name":"cur"},"mark":{"type":"point","shape":"M0,-0.5L3.2,-0.5L3.2,0.5L0,0.5Z","size":169,"filled":true,"color":"#000000","opacity":1},
 "encoding":{"x":{"datum":233.2,"type":"quantitative","axis":null},"y":{"field":"p","type":"quantitative","scale":{"domain":[1.2348,1.26706],"range":[310,0],"nice":false,"zero":false},"axis":null}}},
{"data":{"name":"lv"},"mark":{"type":"text","align":"left","baseline":"middle","fontSize":4.8,"color":"#ffffff","dx":1.5},
 "encoding":{"x":{"datum":233.2,"type":"quantitative","axis":null},"y":{"field":"p","type":"quantitative","scale":{"domain":[1.2348,1.26706],"range":[310,0],"nice":false,"zero":false},"axis":null},"text":{"field":"t"}}},
{"data":{"name":"cur"},"mark":{"type":"text","align":"left","baseline":"middle","fontSize":4.8,"color":"#ffffff","dx":1.5},
 "encoding":{"x":{"datum":233.2,"type":"quantitative","axis":null},"y":{"field":"p","type":"quantitative","scale":{"domain":[1.2348,1.26706],"range":[310,0],"nice":false,"zero":false},"axis":null},"text":{"field":"t"}}},
{"data":{"values":[{"t":"USDCAD,H1  1.2598 1.2607 1.2598 1.2606"}]},"mark":{"type":"text","align":"left","baseline":"middle","fontSize":5,"color":"#000","dx":2},
 "encoding":{"x":{"datum":0.1,"type":"quantitative","axis":null},"y":{"datum":1.26644,"type":"quantitative","scale":{"domain":[1.2348,1.26706],"range":[310,0],"nice":false,"zero":false},"axis":null},"text":{"field":"t"}}},
{"data":{"values":[{}]},"mark":{"type":"rule","color":"#404040","strokeWidth":2},
 "encoding":{"y":{"datum":1.26706,"type":"quantitative","scale":{"domain":[1.2348,1.26706],"range":[310,0],"nice":false,"zero":false},"axis":null}}},
{"data":{"values":[{}]},"mark":{"type":"rule","color":"#808080","strokeWidth":2},
 "encoding":{"y":{"datum":1.2348,"type":"quantitative","scale":{"domain":[1.2348,1.26706],"range":[310,0],"nice":false,"zero":false},"axis":null}}},
{"data":{"name":"k"},"mark":{"type":"bar","width":1.4,"color":"#c0c0c0"},
 "encoding":{"x":{"field":"i","type":"quantitative","scale":{"domain":[0.1,233.2],"nice":false,"zero":false},"axis":null},
  "y":{"field":"m","type":"quantitative","scale":{"domain":[-0.0027,0.0028],"range":[352,310],"nice":false,"zero":false},
   "axis":{"orient":"right","title":null,"values":[0.00224,0,-0.00218],"labelExpr":"datum.value == 0 ? '0.00' : replace(format(datum.value, '.5f'), '\u2212', '-')","labelFontSize":4.8,"labelColor":"#000","tickSize":2,"tickColor":"#000","labelPadding":0.5,"domain":false,"labelOverlap":false,"labelFlush":false,"labelBound":false,"grid":false}},
  "y2":{"datum":0}}},
{"data":{"name":"sig"},"mark":{"type":"line","color":"#ff3030","strokeDash":[1.5,1.5],"strokeWidth":1},
 "encoding":{"x":{"field":"i","type":"quantitative","scale":{"domain":[0.1,233.2],"nice":false,"zero":false},"axis":null},
  "y":{"field":"s","type":"quantitative","scale":{"domain":[-0.0027,0.0028],"range":[352,310],"nice":false,"zero":false},"axis":null}}},
{"data":{"values":[{"t":"MACD(12,26,9) 0.00051 0.00087"}]},"mark":{"type":"text","align":"left","baseline":"middle","fontSize":5,"color":"#000","dx":-2},
 "encoding":{"x":{"datum":0.1,"type":"quantitative","axis":null},"y":{"datum":0.00201,"type":"quantitative","scale":{"domain":[-0.0027,0.0028],"range":[352,310],"nice":false,"zero":false},"axis":null},"text":{"field":"t"}}},
{"data":{"values":[{}]},"mark":{"type":"rule","color":"#808080","strokeWidth":2},
 "encoding":{"y":{"datum":-0.0027,"type":"quantitative","scale":{"domain":[-0.0027,0.0028],"range":[352,310],"nice":false,"zero":false},"axis":null}}},
{"data":{"name":"dmi"},"mark":{"type":"line","color":"#20b2aa","strokeWidth":1.2},
 "encoding":{"x":{"field":"i","type":"quantitative","scale":{"domain":[0.1,233.2],"nice":false,"zero":false},"axis":null},
  "y":{"field":"a","type":"quantitative","scale":{"domain":[-8.3,66.3],"range":[388,352],"nice":false,"zero":false},
   "axis":{"orient":"right","title":null,"values":[58,0],"labelFontSize":4.8,"labelColor":"#000","tickSize":2,"tickColor":"#000","labelPadding":1,"domain":false,"labelOverlap":false,"labelFlush":false,"labelBound":false,"grid":false}}}},
{"data":{"name":"dmi"},"mark":{"type":"line","color":"#9acd32","strokeDash":[1,2],"strokeWidth":1},
 "encoding":{"x":{"field":"i","type":"quantitative","scale":{"domain":[0.1,233.2],"nice":false,"zero":false},"axis":null},
  "y":{"field":"p","type":"quantitative","scale":{"domain":[-8.3,66.3],"range":[388,352],"nice":false,"zero":false},"axis":null}}},
{"data":{"name":"dmi"},"mark":{"type":"line","color":"#f5deb3","strokeDash":[1,2],"strokeWidth":1},
 "encoding":{"x":{"field":"i","type":"quantitative","scale":{"domain":[0.1,233.2],"nice":false,"zero":false},"axis":null},
  "y":{"field":"n","type":"quantitative","scale":{"domain":[-8.3,66.3],"range":[388,352],"nice":false,"zero":false},"axis":null}}},
{"data":{"values":[{"t":"ADX(14) 29.0351 +DI:17.4662 -DI:32.4692"}]},"mark":{"type":"text","align":"left","baseline":"middle","fontSize":5,"color":"#000","dx":-2},
 "encoding":{"x":{"datum":0.1,"type":"quantitative","axis":null},"y":{"datum":55.9,"type":"quantitative","scale":{"domain":[-8.3,66.3],"range":[388,352],"nice":false,"zero":false},"axis":null},"text":{"field":"t"}}},
{"data":{"name":"xl"},"mark":{"type":"text","align":"left","baseline":"middle","fontSize":4.8,"color":"#000"},
 "encoding":{"x":{"field":"i","type":"quantitative","scale":{"domain":[0.1,233.2],"nice":false,"zero":false},"axis":null},
  "y":{"datum":-19.7,"type":"quantitative","scale":{"domain":[-8.3,66.3],"range":[388,352],"nice":false,"zero":false},"axis":null},"text":{"field":"t"}}}
]
}
